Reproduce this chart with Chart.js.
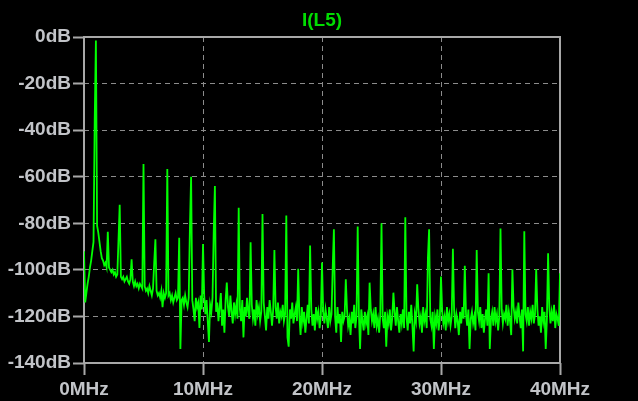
<!DOCTYPE html>
<html>
<head>
<meta charset="utf-8">
<script src="https://cdn.jsdelivr.net/npm/chart.js@4.4.1/dist/chart.umd.min.js"></script>
<style>
  html, body { margin: 0; padding: 0; background: #000; }
  #wrap { width: 638px; height: 401px; position: relative; }
</style>
</head>
<body>
<div id="wrap"><canvas id="fft"></canvas></div>
<script>
"use strict";

// FFT of I(L5): one bin every 0.1 MHz, 0..40 MHz
var traceName = 'I(L5)';
var binStepMHz = 0.1;
var xTicksMHz = [0, 10, 20, 30, 40];
var yTicksDb = [0, -20, -40, -60, -80, -100, -120, -140];

// levels, one row per MHz (first value of each row = harmonic bin)
var levelDb = [
  -92, -114, -110, -106, -103, -99, -96, -92, -88, -36,
  -1.5, -81, -84, -88, -92, -95, -96, -98, -97, -99,
  -83.6, -99, -100, -101, -100, -102, -101, -103, -102, -87,
  -72, -103, -104, -103, -105, -104, -103, -105, -106, -104,
  -95.5, -105, -107, -105, -107, -106, -108, -106, -107, -108,
  -54.5, -107, -109, -108, -110, -107, -109, -111, -108, -97,
  -86.9, -109, -111, -110, -112, -109, -116, -110, -112, -110,
  -56.7, -111, -110, -113, -111, -114, -112, -110, -113, -112,
  -86.2, -134, -113, -112, -115, -111, -114, -116, -112, -82,
  -60, -113, -117, -122, -112, -116, -114, -125, -111, -117,
  -88.9, -111, -119, -113, -122, -131, -115, -118, -112, -84,
  -64, -118, -114, -122, -116, -110, -124, -117, -127, -113,
  -105.5, -116, -120, -111, -118, -123, -114, -119, -115, -121,
  -73.3, -117, -122, -113, -129, -116, -120, -112, -118, -121,
  -88.1, -115, -121, -117, -124, -113, -119, -116, -122, -118,
  -76, -114, -120, -126, -116, -121, -113, -118, -124, -117,
  -91.5, -116, -121, -114, -123, -118, -120, -115, -122, -119,
  -76.7, -129, -133, -117, -121, -114, -123, -119, -116, -122,
  -99.5, -120, -128, -116, -122, -118, -127, -121, -115, -123,
  -89.5, -117, -124, -119, -126, -116, -121, -118, -125, -120,
  -96.9, -118, -123, -117, -121, -125, -116, -122, -119, -99,
  -82.6, -120, -127, -116, -123, -119, -131, -118, -122, -120,
  -104, -117, -124, -121, -128, -118, -123, -115, -125, -120,
  -81.4, -119, -134, -117, -122, -126, -118, -123, -120, -128,
  -105.5, -117, -122, -119, -125, -116, -124, -121, -127, -119,
  -80, -121, -125, -118, -133, -120, -123, -117, -126, -121,
  -109.8, -118, -124, -116, -122, -127, -119, -123, -117, -125,
  -77.4, -120, -126, -118, -123, -115, -124, -135, -119, -122,
  -106.2, -117, -123, -120, -127, -116, -122, -119, -125, -95,
  -82.6, -121, -124, -118, -134, -120, -123, -117, -126, -121,
  -102.9, -118, -123, -120, -126, -116, -122, -119, -124, -120,
  -90.9, -117, -125, -119, -122, -128, -118, -123, -116, -121,
  -98.2, -119, -124, -117, -134, -121, -118, -123, -120, -126,
  -91.5, -118, -122, -116, -125, -119, -127, -121, -117, -124,
  -101.5, -134, -121, -118, -124, -116, -122, -119, -126, -120,
  -82.2, -117, -123, -119, -121, -115, -124, -118, -122, -128,
  -99.7, -116, -121, -118, -123, -114, -120, -125, -117, -135,
  -83.4, -119, -122, -116, -124, -118, -121, -115, -123, -119,
  -99.6, -117, -124, -120, -127, -116, -122, -118, -134, -121,
  -92.9, -116, -123, -118, -122, -115, -125, -119, -121, -124,
  -101.5
];

var points = levelDb.map(function(v, i) {
  return { x: +(i * binStepMHz).toFixed(1), y: v };
});

var labelFont = { family: "'Liberation Sans', Arial, sans-serif", size: 19, weight: 'bold' };
var labelColor = '#c2c4c8';
var frameColor = '#a8a8a8';
var gridColor = '#8c8c8c';

// grid only inside the box, the frame itself is drawn by the plugin below
function innerGrid(lo, hi) {
  return function(c) {
    if (!c.tick) return gridColor;
    return (c.tick.value === lo || c.tick.value === hi) ? 'transparent' : gridColor;
  };
}

var plotFrame = {
  id: 'plotFrame',
  beforeDatasetsDraw: function(chart) {
    var a = chart.chartArea, c = chart.ctx;
    c.save();
    c.strokeStyle = frameColor;
    c.lineWidth = 2;
    c.strokeRect(a.left, a.top, a.right - a.left, a.bottom - a.top);
    c.restore();
  },
  afterDraw: function(chart) {
    var a = chart.chartArea, c = chart.ctx;
    c.save();
    c.font = 'bold 19px ' + labelFont.family;
    c.fillStyle = '#00dd00';
    c.textAlign = 'center';
    c.textBaseline = 'middle';
    c.fillText(traceName, (a.left + a.right) / 2, 21);
    c.restore();
  }
};

var ctx = document.getElementById('fft').getContext('2d');
var myChart = new Chart(ctx, {
  type: 'line',
  data: {
    datasets: [{
      label: traceName,
      data: points,
      borderColor: '#00ff00',
      borderWidth: 1.8,
      pointRadius: 0,
      tension: 0,
      fill: false
    }]
  },
  options: {
    responsive: true,
    maintainAspectRatio: false,
    animation: false,
    events: [],
    layout: { padding: { top: 37, right: 78, left: 0, bottom: 0 } },
    plugins: {
      legend: { display: false },
      tooltip: { enabled: false }
    },
    scales: {
      x: {
        type: 'linear',
        min: 0,
        max: 40,
        afterBuildTicks: function(s) { s.ticks = xTicksMHz.map(function(v) { return { value: v }; }); },
        afterFit: function(s) { s.height = 38; },
        ticks: {
          color: labelColor,
          font: labelFont,
          padding: 3,
          maxRotation: 0,
          callback: function(v) { return v + 'MHz'; }
        },
        grid: {
          color: innerGrid(0, 40),
          tickColor: frameColor,
          tickLength: 12,
          lineWidth: 1,
          tickWidth: 2
        },
        border: { display: false, dash: [5, 4] }
      },
      y: {
        min: -140,
        max: 0,
        afterBuildTicks: function(s) { s.ticks = yTicksDb.map(function(v) { return { value: v }; }); },
        afterFit: function(s) { s.width = 84; },
        ticks: {
          color: labelColor,
          font: labelFont,
          padding: 2,
          callback: function(v) { return v + 'dB'; }
        },
        grid: {
          color: innerGrid(-140, 0),
          tickColor: frameColor,
          tickLength: 11,
          lineWidth: 1,
          tickWidth: 2
        },
        border: { display: false, dash: [5, 4] }
      }
    }
  },
  plugins: [plotFrame]
});
</script>
</body>
</html>
